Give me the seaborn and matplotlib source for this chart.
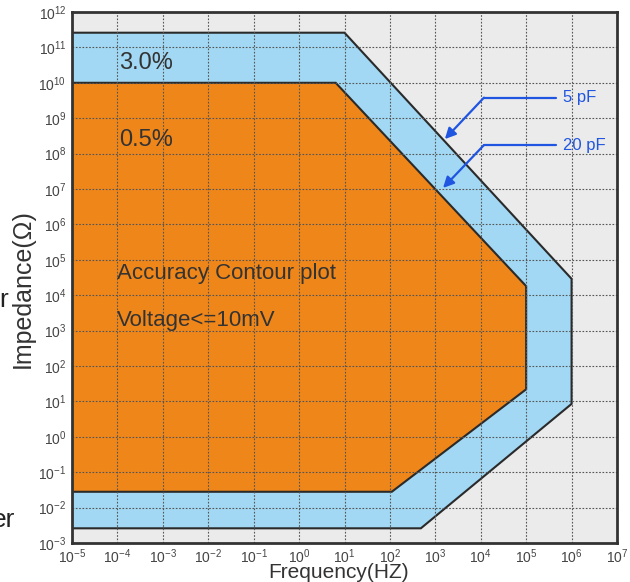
import matplotlib
matplotlib.use("Agg")
import matplotlib.pyplot as plt
import seaborn as sns
from matplotlib.ticker import LogLocator, NullLocator

# accuracy regions (corner points)
outer_freq = [1e-5, 10, 1e6, 1e6, 480, 1e-5]
outer_imp = [2.6e11, 2.6e11, 2.9e4, 8.5, 2.6e-3, 2.6e-3]
inner_freq = [1e-5, 6.4, 1e5, 1e5, 110, 1e-5]
inner_imp = [1e10, 1e10, 1.8e4, 22, 2.8e-2, 2.8e-2]

region_labels = ["3.0%", "0.5%"]
cap_labels = ["5 pF", "20 pF"]

sns.set_theme(style="white")
plt.rcParams["font.family"] = ["Liberation Sans", "DejaVu Sans"]

fig = plt.figure(figsize=(6.3, 5.82), dpi=100)
ax = fig.add_axes([72 / 630, 1 - 543 / 582, 545 / 630, 531 / 582])
ax.set_facecolor("#ebebeb")

ax.fill(outer_freq, outer_imp, facecolor="#a2d8f3", edgecolor="#2a2a2a",
        linewidth=1.5, zorder=1)
ax.fill(inner_freq, inner_imp, facecolor="#ef861a", edgecolor="#2a2a2a",
        linewidth=1.5, zorder=1.2)

ax.set_xscale("log")
ax.set_yscale("log")
ax.set_xlim(1e-5, 1e7)
ax.set_ylim(1e-3, 1e12)
ax.xaxis.set_major_locator(LogLocator(base=10, numticks=20))
ax.yaxis.set_major_locator(LogLocator(base=10, numticks=20))
ax.xaxis.set_minor_locator(NullLocator())
ax.yaxis.set_minor_locator(NullLocator())

ax.set_axisbelow(False)
ax.grid(True, which="major", linestyle=(0, (1.5, 1.5)), color="#555555",
        linewidth=0.8)
ax.tick_params(length=0, labelsize=10, labelcolor="#444444", pad=4)
ax.tick_params(axis="x", pad=3)

for s in ax.spines.values():
    s.set_color("#333333")
    s.set_linewidth(2)
    s.set_zorder(5)

ax.set_xlabel("Frequency(HZ)", fontsize=15, color="#333333", va="baseline")
ax.set_ylabel("Impedance(Ω)", fontsize=18, color="#333333")
ax.xaxis.set_label_coords(0.489, -0.065)
ax.yaxis.set_label_coords(-0.068, 0.479)

# region text
ax.text(10 ** -3.965, 10 ** 10.39, region_labels[0], fontsize=17,
        color="#333333", va="baseline", ha="left")
ax.text(10 ** -3.965, 10 ** 8.21, region_labels[1], fontsize=17,
        color="#333333", va="baseline", ha="left")
ax.text(10 ** -4.01, 10 ** 4.455, "Accuracy Contour plot", fontsize=16,
        color="#333333", va="baseline", ha="left")
ax.text(10 ** -4.01, 10 ** 3.14, "Voltage<=10mV", fontsize=16,
        color="#333333", va="baseline", ha="left")

# capacitance callouts
blue = "#1f55e0"
callouts = [
    (cap_labels[0], 9.58, 9.447, (3.21, 8.41)),
    (cap_labels[1], 8.24, 8.10, (3.17, 7.03)),
]
for label, ylev, ybase, (tx, ty) in callouts:
    ax.plot([10 ** 4.07, 10 ** 5.66], [10 ** ylev, 10 ** ylev], color=blue,
            linewidth=1.6, zorder=6)
    ax.annotate("", xy=(10 ** tx, 10 ** ty), xytext=(10 ** 4.07, 10 ** ylev),
                arrowprops=dict(arrowstyle="-|>", color=blue, lw=1.6,
                                mutation_scale=16, shrinkA=0, shrinkB=0),
                zorder=6)
    ax.text(10 ** 5.81, 10 ** ybase, label, fontsize=12, color=blue,
            va="baseline", ha="left", zorder=6)

# fragments of neighbouring text cut off at the left edge
fig.text(8 / 630, 1 - 300 / 582, "r", fontsize=19, color="#222222",
         ha="right", va="center")
fig.text(15 / 630, 1 - 520 / 582, "er", fontsize=19, color="#222222",
         ha="right", va="center")

fig.savefig("out.png", dpi=100)
